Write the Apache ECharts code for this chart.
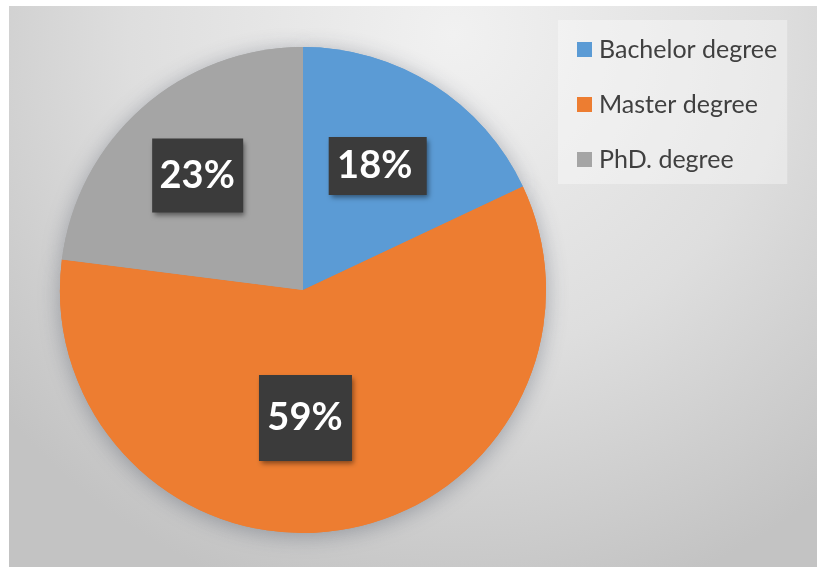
<!DOCTYPE html>
<html>
<head>
<meta charset="utf-8">
<script src="https://cdn.jsdelivr.net/npm/echarts@6/dist/echarts.min.js"></script>
<style>
  html, body { margin: 0; padding: 0; background: #ffffff; overflow: hidden; }
  #chart { width: 817px; height: 567px; }
</style>
</head>
<body>
<div id="chart"></div>
<script>
// Degree distribution (percent of respondents)
const categories = ['Bachelor degree', 'Master degree', 'PhD. degree'];
const shares = [18, 59, 23];
const colors = ['#5B9BD5', '#ED7D31', '#A5A5A5'];

// Label box placement tweaks (shift from the slice's inside anchor) and box padding
const labelShift = [[8, -19], [-17, 5], [-23, -21]];
const labelPadding = [[4, 12, 14, 6], [24, 7, 22, 6], [21, 6, 13, 5]];

const chart = echarts.init(document.getElementById('chart'), null, { renderer: 'canvas' });

const pieData = categories.map((name, i) => ({
  name: name,
  value: shares[i],
  itemStyle: { color: colors[i] },
  label: { padding: labelPadding[i] }
}));

const center = [303, 290];
const radius = 243;

chart.setOption({
  animation: false,
  graphic: [{
    type: 'rect',
    z: -10,
    shape: { x: 9, y: 6, width: 808, height: 561 },
    style: {
      fill: new echarts.graphic.RadialGradient(0.55, 0.05, 1.05, [
        { offset: 0, color: '#f1f1f1' },
        { offset: 0.55, color: '#dedede' },
        { offset: 1, color: '#c3c3c3' }
      ])
    },
    silent: true
  }],
  legend: {
    orient: 'vertical',
    left: 558, top: 20,
    padding: [17, 10, 12, 19],
    backgroundColor: 'rgba(255,255,255,0.35)',
    itemWidth: 15, itemHeight: 15,
    itemGap: 30,
    icon: 'rect',
    data: categories,
    textStyle: { fontFamily: 'Lato', fontSize: 25, color: '#404040', lineHeight: 25, padding: [0, 0, 0, 2] }
  },
  series: [
    {
      // soft drop shadow under the whole pie
      type: 'pie', silent: true, z: 1,
      center: center, radius: radius,
      startAngle: 90, clockwise: true,
      label: { show: false }, labelLine: { show: false },
      itemStyle: { shadowBlur: 22, shadowColor: 'rgba(40,50,70,0.35)', shadowOffsetY: 3 },
      data: pieData.map(d => ({ name: d.name, value: d.value, itemStyle: d.itemStyle }))
    },
    {
      type: 'pie', silent: true, z: 2,
      center: center, radius: radius,
      startAngle: 90, clockwise: true,
      itemStyle: { borderWidth: 0 },
      label: {
        show: true,
        position: 'inside',
        formatter: '{d}%',
        fontFamily: 'Lato',
        fontWeight: 'bold',
        fontSize: 38,
        lineHeight: 40,
        width: 80,
        align: 'center',
        color: '#ffffff',
        backgroundColor: '#3b3b3b',
        shadowBlur: 5,
        shadowOffsetX: 2,
        shadowOffsetY: 3,
        shadowColor: 'rgba(0,0,0,0.45)'
      },
      labelLine: { show: false },
      labelLayout: function (p) {
        return { dx: labelShift[p.dataIndex][0], dy: labelShift[p.dataIndex][1] };
      },
      data: pieData
    }
  ]
});
</script>
</body>
</html>
